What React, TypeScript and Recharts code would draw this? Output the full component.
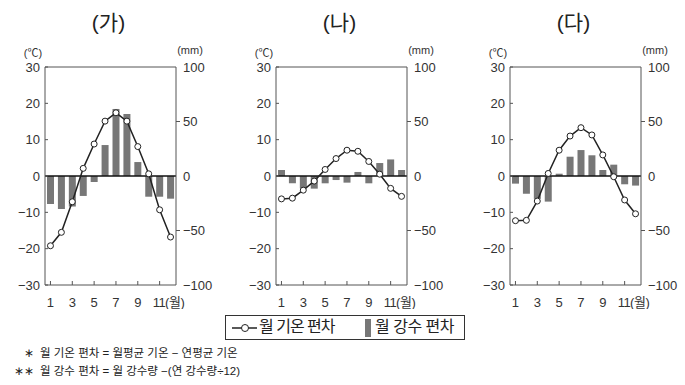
import { ComposedChart, Bar, Line, XAxis, YAxis, ReferenceLine } from "recharts"

const months = [1, 2, 3, 4, 5, 6, 7, 8, 9, 10, 11, 12]

// 월 기온 편차 (°C)
const tempA = [-19.2, -15.5, -7.1, 2.1, 8.8, 15.1, 17.4, 15.1, 8.1, 0.6, -9.3, -16.8]
const tempB = [-6.3, -6.1, -3.9, -1.4, 1.8, 4.8, 7.1, 6.8, 4.0, 0.5, -3.4, -5.6]
const tempC = [-12.3, -12.2, -6.9, 0.7, 7.1, 11.0, 13.3, 11.3, 5.8, -0.2, -6.6, -10.4]

// 월 강수 편차 (mm)
const precA = [-25.7, -30.3, -28, -18.3, -5.5, 28.4, 61.5, 56.9, 12.8, -19, -19, -20.8]
const precB = [5.5, -6.7, -11.3, -11.6, -6.7, -3.7, -6.1, 3.7, -6.7, 11.9, 15.2, 5.5]
const precC = [-7, -16.2, -21, -23.5, 2.1, 17.7, 23.8, 19, 5.5, 10.4, -7.6, -8.8]

const tempTicks = [-30, -20, -10, 0, 10, 20, 30]
const precTicks = [-100, -50, 0, 50, 100]

const titles = ["(가)", "(나)", "(다)"]

const FONT = '"Liberation Sans", "Noto Sans CJK KR", sans-serif'
const AXIS = "#555"
const TXT = "#333"
const BAR = "#777"

const fmt = (v: number) => (v < 0 ? "−" + Math.abs(v) : String(v))

function LeftTick(props: any) {
  const { x, y, payload } = props
  return (
    <g>
      <line x1={x} x2={x + 3} y1={y} y2={y} stroke={AXIS} />
      <text x={x - 5} y={y} dy="0.36em" textAnchor="end" fontSize={13} fill={TXT} fontFamily={FONT}>
        {fmt(payload.value)}
      </text>
    </g>
  )
}

function RightTick(props: any) {
  const { x, y, payload } = props
  const v = payload.value
  return (
    <g>
      {Math.abs(v) === 50 && <line x1={x} x2={x + 4} y1={y} y2={y} stroke={AXIS} />}
      <text x={x + 7} y={y} dy="0.36em" textAnchor="start" fontSize={13} fill={TXT} fontFamily={FONT}>
        {fmt(v)}
      </text>
    </g>
  )
}

function BottomTick(props: any) {
  const { x, y, payload } = props
  const v = payload.value
  if (v % 2 === 0) return <g />
  return (
    <g>
      <line x1={x} x2={x} y1={y} y2={y - 4} stroke={AXIS} />
      <text
        x={v === 11 ? x - 7 : x}
        y={y + 17}
        dy="0.36em"
        textAnchor={v === 11 ? "start" : "middle"}
        fontSize={13}
        fill={TXT}
        fontFamily={FONT}
        letterSpacing={v === 11 ? -0.5 : 0}
      >
        {v === 11 ? "11(월)" : v}
      </text>
    </g>
  )
}

interface PanelProps {
  title: string
  temp: number[]
  prec: number[]
  plotLeft: number
}

const PLOT_W = 131
const PLOT_TOP = 67
const PLOT_BOTTOM = 285
const AXIS_W = 45

function Panel({ title, temp, prec, plotLeft }: PanelProps) {
  const data = months.map((m, i) => ({ m, t: temp[i], p: prec[i] }))
  const left = plotLeft - AXIS_W
  const center = plotLeft + PLOT_W / 2
  return (
    <>
      <div
        style={{
          position: "absolute",
          left: center - 40,
          width: 76,
          top: 6,
          textAlign: "center",
          fontSize: 21,
          fontFamily: FONT,
          color: "#222",
        }}
      >
        {title}
      </div>
      <div style={{ position: "absolute", left: plotLeft - 32, width: 40, top: 44, textAlign: "center", fontSize: 11, fontFamily: FONT, color: TXT }}>
        (℃)
      </div>
      <div style={{ position: "absolute", left: plotLeft + PLOT_W - 6, width: 40, top: 44, textAlign: "center", fontSize: 11, fontFamily: FONT, color: TXT }}>
        (mm)
      </div>
      <div style={{ position: "absolute", left, top: 0 }}>
        <ComposedChart
          width={PLOT_W + AXIS_W * 2}
          height={PLOT_BOTTOM + 24}
          data={data}
          margin={{ top: PLOT_TOP, right: 0, bottom: 0, left: 0 }}
          barSize={7}
        >
          <XAxis
            dataKey="m"
            type="category"
            height={24}
            tickSize={0}
            tickMargin={0}
            tick={<BottomTick />}
            interval={0}
            axisLine={{ stroke: AXIS }}
            tickLine={false}
          />
          <YAxis
            yAxisId="t"
            orientation="left"
            width={AXIS_W}
            domain={[-30, 30]}
            ticks={tempTicks}
            tickSize={0}
            tickMargin={0}
            tick={<LeftTick />}
            axisLine={{ stroke: AXIS }}
            tickLine={false}
            interval={0}
          />
          <YAxis
            yAxisId="p"
            orientation="right"
            width={AXIS_W}
            domain={[-100, 100]}
            ticks={precTicks}
            tickSize={0}
            tickMargin={0}
            tick={<RightTick />}
            axisLine={{ stroke: AXIS }}
            tickLine={false}
            interval={0}
          />
          <ReferenceLine yAxisId="t" y={30} stroke={AXIS} />
          <Bar yAxisId="p" dataKey="p" fill={BAR} isAnimationActive={false} />
          <ReferenceLine yAxisId="t" y={0} stroke="#111" strokeWidth={1.5} />
          <Line
            yAxisId="t"
            dataKey="t"
            type="linear"
            stroke="#222"
            strokeWidth={1.5}
            dot={{ r: 3, fill: "#fff", stroke: "#222", strokeWidth: 1 }}
            isAnimationActive={false}
          />
        </ComposedChart>
      </div>
    </>
  )
}

const legendText = { position: "absolute" as const, top: 1, fontSize: 16, lineHeight: "20px", whiteSpace: "nowrap" as const }

export default function App() {
  return (
    <div style={{ position: "absolute", left: 0, top: 0, width: 685, height: 385, background: "#fff", fontFamily: FONT }}>
      <Panel title={titles[0]} temp={tempA} prec={precA} plotLeft={45} />
      <Panel title={titles[1]} temp={tempB} prec={precB} plotLeft={276} />
      <Panel title={titles[2]} temp={tempC} prec={precC} plotLeft={510} />

      <div
        style={{
          position: "absolute",
          left: 225,
          top: 315,
          width: 238,
          height: 23,
          border: "1px solid #333",
          color: "#222",
        }}
      >
        <svg width={26} height={12} style={{ position: "absolute", left: 6, top: 6 }}>
          <line x1={0} x2={25} y1={6} y2={6} stroke="#222" strokeWidth={1.5} />
          <circle cx={13} cy={6} r={3.5} fill="#fff" stroke="#222" strokeWidth={1} />
        </svg>
        <span style={{ ...legendText, left: 33, letterSpacing: -1 }}>월 기온 편차</span>
        <svg width={6} height={18} style={{ position: "absolute", left: 139, top: 3 }}>
          <rect x={0} y={0} width={6} height={18} fill={BAR} />
        </svg>
        <span style={{ ...legendText, left: 149, letterSpacing: -0.5 }}>월 강수 편차</span>
      </div>

      <div style={{ position: "absolute", left: 0, top: 344, fontSize: 11.5, color: "#222", lineHeight: "18px" }}>
        <div style={{ display: "flex" }}>
          <span style={{ width: 34, textAlign: "right", marginRight: 6 }}>∗</span>
          <span>월 기온 편차 = 월평균 기온 − 연평균 기온</span>
        </div>
        <div style={{ display: "flex" }}>
          <span style={{ width: 34, textAlign: "right", marginRight: 6 }}>∗∗</span>
          <span>월 강수 편차 = 월 강수량 −(연 강수량÷12)</span>
        </div>
      </div>
    </div>
  )
}
